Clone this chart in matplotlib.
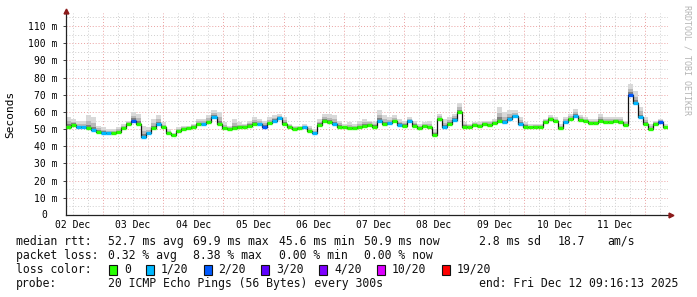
#!/usr/bin/env python3
"""SmokePing-style 10-day latency graph (median rtt + smoke + loss colours)."""
import numpy as np
import matplotlib; matplotlib.use("Agg")
import matplotlib.pyplot as plt
import matplotlib.transforms as mtrans

MONO = "DejaVu Sans Mono"
W, H = 697, 297

# ---- data: 2-hourly samples starting Tue Dec 02 09:16:13 (120 steps = 10 days) ----
median_ms = [
    51.5, 52.5, 51, 51, 50.5, 49.5, 48.5, 48, 47.5, 48, 48.5, 50.5,
    53, 55, 53, 45.6, 47.5, 50.5, 53, 51, 47.5, 46.5, 49, 50,
    50.5, 51.5, 53, 53, 54, 57, 53, 50.5, 50, 50.5, 51, 51.5,
    52, 53, 53, 51.5, 53.5, 55, 56.5, 53, 51.5, 50, 50.5, 51,
    49, 48, 52.5, 54.5, 54, 53, 51.5, 51, 50.5, 50.5, 51, 52,
    52.5, 51.5, 55, 53, 53.5, 54.5, 52.5, 52, 54.5, 52, 50.5, 52,
    51, 46.7, 56, 51, 53, 55.5, 60, 51.5, 51.5, 52.5, 52, 53,
    52.5, 53.5, 55, 54, 56, 57.5, 53, 51.5, 51, 51.5, 51.5, 54,
    56, 55, 50.5, 54, 56, 57.5, 55.5, 55, 53.5, 53.5, 55, 54,
    54, 54.5, 54, 52.5, 69.9, 65, 57, 53, 50, 53, 54, 51,
]
smoke_top_ms = [
    57, 56, 55, 55, 58, 57, 52, 51, 50, 50, 51, 53,
    55, 60, 59, 52, 51, 56, 58, 54, 50, 48, 51, 52,
    52, 53, 56, 56, 58, 61, 60, 54, 52, 56, 54, 53,
    55, 57, 56, 55, 57, 58, 59, 57, 53, 52, 52, 53,
    52, 50, 56, 59, 59, 58, 55, 53, 54, 53, 55, 56,
    55, 54, 61, 58, 57, 58, 56, 55, 57, 55, 53, 54,
    55, 50, 59, 56, 57, 59, 65, 54, 53, 54, 54, 55,
    55, 56, 63, 60, 61, 61, 57, 54, 53, 53, 53, 56,
    58, 57, 53, 57, 59, 62, 58, 57, 56, 56, 59, 57,
    57, 57, 57, 55, 76, 72, 63, 57, 53, 55, 56, 53,
]
loss_level = [
    0, 0, 1, 1, 0, 1, 0, 1, 1, 0, 0, 0,
    0, 2, 0, 1, 1, 0, 1, 0, 0, 0, 0, 0,
    0, 0, 0, 1, 0, 1, 0, 0, 0, 0, 0, 0,
    0, 0, 1, 2, 0, 1, 1, 0, 0, 0, 0, 1,
    0, 1, 0, 0, 0, 1, 0, 0, 0, 0, 0, 0,
    0, 0, 1, 0, 1, 0, 1, 0, 1, 0, 0, 0,
    0, 0, 0, 1, 0, 1, 0, 0, 0, 0, 0, 0,
    0, 0, 0, 1, 1, 1, 1, 0, 0, 0, 0, 0,
    0, 0, 0, 1, 0, 1, 0, 0, 0, 0, 0, 0,
    0, 0, 0, 0, 2, 1, 1, 0, 0, 0, 2, 0,
]
loss_labels = ["0", "1/20", "2/20", "3/20", "4/20", "10/20", "19/20"]
loss_colors = ["#26ff00", "#00b8ff", "#0059ff", "#5e00ff", "#7e00ff", "#dd00ff", "#ff0000"]
day_labels = ["02 Dec", "03 Dec", "04 Dec", "05 Dec", "06 Dec",
              "07 Dec", "08 Dec", "09 Dec", "10 Dec", "11 Dec"]
ytick_vals = [10, 20, 30, 40, 50, 60, 70, 80, 90, 100, 110]

START_OFF = 14.7297          # hours from graph start to first midnight (Dec 3 00:00)
SPAN_H = 240.0

med = np.array(median_ms); top = np.array(smoke_top_ms)
x_edges = np.linspace(0, SPAN_H, len(med) + 1)

fig = plt.figure(figsize=(W / 100, H / 100), dpi=100)
fig.patch.set_facecolor("white")
ax = fig.add_axes([66 / W, 1 - 215 / H, 602 / W, 202 / H])
ax.set_xlim(0, SPAN_H); ax.set_ylim(0, 117.6)
for sp in ["top", "right"]:
    ax.spines[sp].set_visible(False)
for sp in ["left", "bottom"]:
    ax.spines[sp].set_color("#222222"); ax.spines[sp].set_linewidth(0.9)

# ---- grid (dotted, rrdtool style) ----
dot = (0, (1, 2))
for v in np.arange(5, 117, 10):
    ax.axhline(v, color="#cfcfcf", lw=0.7, ls=dot, zorder=0)
for v in ytick_vals:
    ax.axhline(v, color="#eaa0a0", lw=0.7, ls=dot, zorder=0)
for h in np.arange(START_OFF - 12, SPAN_H, 6):
    if abs((h - START_OFF) % 24) > 1e-6:
        ax.axvline(h, color="#cfcfcf", lw=0.7, ls=dot, zorder=0)
for h in np.arange(START_OFF, SPAN_H, 24):
    ax.axvline(h, color="#eaa0a0", lw=0.7, ls=dot, zorder=0)

# ---- smoke ----
xs = x_edges
med_s = np.append(med, med[-1]); top_s = np.append(top, top[-1])
ax.fill_between(xs, med_s - 0.8, top_s, step="post", color="#d9d9d9", lw=0, zorder=1)
ax.fill_between(xs, med_s - 0.5, med_s + (top_s - med_s) * 0.55, step="post", color="#b8b8b8", lw=0, zorder=1)
ax.fill_between(xs, med_s - 0.3, med_s + (top_s - med_s) * 0.25, step="post", color="#808080", lw=0, zorder=1)

# ---- median line coloured by loss ----
ax.step(xs, med_s, where="post", color="#111111", lw=0.9, zorder=2)
ax.hlines(med, x_edges[:-1], x_edges[1:], colors=[loss_colors[l] for l in loss_level],
          lw=2.4, zorder=3)

# ---- ticks / labels ----
ax.set_yticks(ytick_vals, [f"{v} m" for v in ytick_vals], fontsize=7, family=MONO)
ax.tick_params(axis="y", length=2, width=0.6, pad=4, color="#222222")
ax.set_xticks(START_OFF - 12 + 24 * np.arange(len(day_labels)), day_labels, fontsize=7, family=MONO)
ax.tick_params(axis="x", length=0, pad=3.5)
bl = mtrans.blended_transform_factory(ax.transAxes, ax.transData)
ax.text(-19 / 602, 0, "0", transform=bl, ha="right", va="center", fontsize=7, family=MONO)
ax.set_ylabel("Seconds", fontsize=8, family=MONO)
ax.yaxis.set_label_coords(-51 / 602, 0.5)

# axis arrows
ax.plot([0], [117.6 + 1.2], marker="^", ms=3.5, color="#8b1a1a", clip_on=False, zorder=5)
ax.plot([SPAN_H + 1.2], [0], marker=">", ms=3.5, color="#8b1a1a", clip_on=False, zorder=5)

fig.text(687 / W, 1 - 5 / H, "RRDTOOL / TOBI OETIKER", rotation=270, ha="center", va="top",
         fontsize=6, family=MONO, color="#b4b4b4")

# ---- legend block ----
def t(x, y, s):
    fig.text(x / W, 1 - y / H, s, fontsize=8.3, family=MONO, va="center", ha="left", color="#111111")

t(16, 241.5, "median rtt:")
for xp, s in zip([107.6, 193, 279, 364, 479, 558, 607.6],
                 ["52.7 ms avg", "69.9 ms max", "45.6 ms min", "50.9 ms now", "2.8 ms sd", "18.7", "am/s"]):
    t(xp, 241.5, s)
t(16, 255.5, "packet loss:")
for xp, s in zip([107.6, 193, 279, 364], ["0.32 % avg", "8.38 % max", "0.00 % min", "0.00 % now"]):
    t(xp, 255.5, s)
t(16, 269.3, "loss color:")
box_x = [109, 146, 203.5, 261, 319, 377, 442]
for bx, lab, col in zip(box_x, loss_labels, loss_colors):
    fig.patches.append(plt.Rectangle((bx / W, 1 - 274.5 / H), 8 / W, 10 / H, transform=fig.transFigure,
                                     fc=col, ec="#111111", lw=0.8))
    t(bx + 15, 269.3, lab)
t(16, 283.3, "probe:")
t(107.6, 283.3, "20 ICMP Echo Pings (56 Bytes) every 300s")
t(478.7, 283.3, "end: Fri Dec 12 09:16:13 2025")

fig.savefig("out.png", dpi=100)
